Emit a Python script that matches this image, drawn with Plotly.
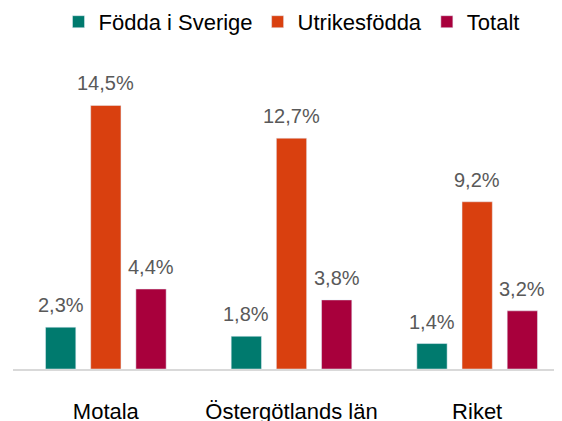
import plotly.graph_objects as go

categories = ["Motala", "Östergötlands län", "Riket"]
series_names = ["Födda i Sverige", "Utrikesfödda", "Totalt"]
fodda_i_sverige = [2.3, 1.8, 1.4]
utrikesfodda = [14.5, 12.7, 9.2]
totalt = [4.4, 3.8, 3.2]
colors = ["#007A6E", "#D9400F", "#A8003C"]

bargap = 0.27
all_series = [fodda_i_sverige, utrikesfodda, totalt]

fig = go.Figure()
for name, vals, col in zip(series_names, all_series, colors):
    fig.add_trace(go.Bar(x=categories, y=vals, name=name, marker_color=col))

# value labels above each bar, placed in data units
pitch = (1 - bargap) / len(all_series)
for k, vals in enumerate(all_series):
    offset = (k - (len(all_series) - 1) / 2) * pitch
    for i, v in enumerate(vals):
        fig.add_annotation(
            x=i + offset,
            y=v,
            text=f"{v:.1f}%".replace(".", ","),
            showarrow=False,
            yanchor="bottom",
            yshift=9,
            font=dict(size=20, color="#595959"),
        )

fig.update_layout(
    width=562,
    height=421,
    margin=dict(l=5, r=0, t=52, b=60),
    plot_bgcolor="white",
    paper_bgcolor="white",
    font=dict(family="Liberation Sans, Arial, sans-serif", size=22, color="#000000"),
    barmode="group",
    bargap=bargap,
    bargroupgap=0.33,
    showlegend=True,
    legend=dict(
        orientation="h",
        x=0.5,
        xanchor="center",
        y=0.967,
        yanchor="middle",
        yref="container",
        font=dict(size=22, color="#000000"),
        itemwidth=30,
    ),
    xaxis=dict(
        showline=True,
        linecolor="#D9D9D9",
        linewidth=1.5,
        ticks="",
        ticklabelstandoff=22,
        automargin=False,
        tickfont=dict(size=22, color="#000000"),
    ),
    yaxis=dict(
        range=[0, 17],
        visible=False,
        showgrid=False,
    ),
)

fig.write_html("out.html")
